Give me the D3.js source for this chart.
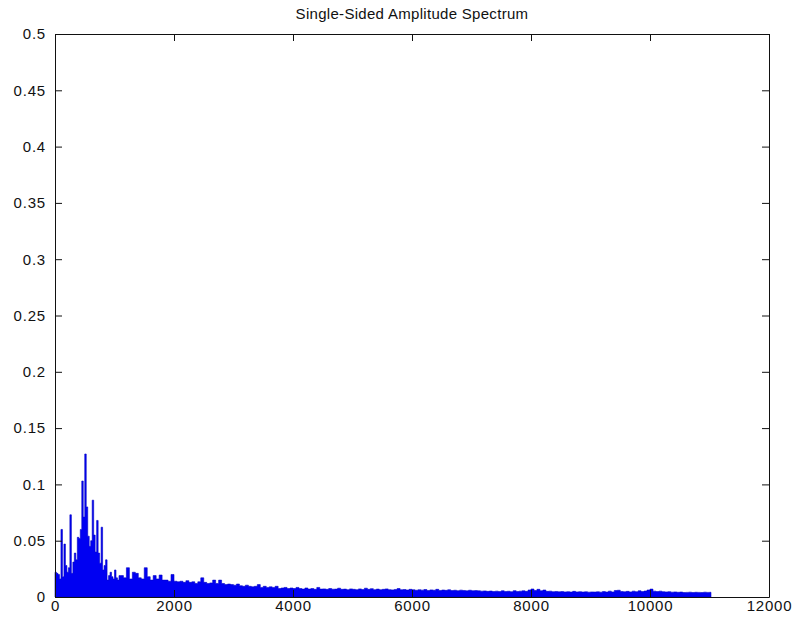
<!DOCTYPE html>
<html>
<head>
<meta charset="utf-8">
<script src="https://cdn.jsdelivr.net/npm/d3@7"></script>
<style>
  body { margin: 0; background: #fff; }
  text { font-family: "Liberation Sans", Arial, sans-serif; }
</style>
</head>
<body>
<svg id="chart"></svg>
<script>
// chart text + ticks
var titleText = "Single-Sided Amplitude Spectrum";
var xTicks = [0, 2000, 4000, 6000, 8000, 10000, 12000];
var yTicks = [0, 0.05, 0.1, 0.15, 0.2, 0.25, 0.3, 0.35, 0.4, 0.45, 0.5];
var yTickLabels = ["0", "0.05", "0.1", "0.15", "0.2", "0.25", "0.3", "0.35", "0.4", "0.45", "0.5"];

// spectrum
// 0 - 1075 Hz, one value every 25 Hz
var lowStepHz = 25;
var lowAmp = [
  0.022, 0.021, 0.020, 0.016, 0.060, 0.018, 0.047, 0.028, 0.022, 0.026,
  0.073, 0.021, 0.031, 0.039, 0.033, 0.053, 0.052, 0.060, 0.103, 0.071,
  0.127, 0.080, 0.054, 0.045, 0.050, 0.086, 0.055, 0.040, 0.068, 0.039,
  0.030, 0.062, 0.024, 0.028, 0.033, 0.015, 0.019, 0.022, 0.018, 0.016,
  0.024, 0.017, 0.015, 0.019
];
// 1100 - 11000 Hz, one value every 50 Hz
var highStartHz = 1100;
var highStepHz = 50;
var highAmp = [
  0.019, 0.017, 0.026, 0.016, 0.022, 0.021, 0.017, 0.016, 0.026, 0.018,
  0.015, 0.019, 0.016, 0.0195, 0.015, 0.015, 0.014, 0.020, 0.014, 0.0135,
  0.014, 0.013, 0.0145, 0.013, 0.0135, 0.012, 0.0135, 0.017, 0.013, 0.012,
  0.0125, 0.015, 0.012, 0.015, 0.012, 0.011, 0.0115, 0.011, 0.0105, 0.0115,
  0.010, 0.0095, 0.0105, 0.0095, 0.009, 0.0095, 0.011, 0.0085, 0.0095, 0.0085,
  0.009, 0.0085, 0.0095, 0.0075, 0.008, 0.0085, 0.0075, 0.008, 0.0075, 0.0085,
  0.0075, 0.007, 0.008, 0.007, 0.0075, 0.0068, 0.0085, 0.007, 0.0072, 0.0068,
  0.0075, 0.0069, 0.007, 0.0078, 0.0068, 0.007, 0.0065, 0.0072, 0.0068, 0.0065,
  0.0072, 0.0066, 0.0078, 0.0068, 0.0074, 0.0065, 0.007, 0.0064, 0.0068, 0.0072,
  0.0065, 0.0063, 0.0067, 0.0075, 0.0064, 0.0066, 0.0062, 0.0068, 0.0064, 0.006,
  0.0064, 0.0061, 0.0066, 0.0058, 0.0063, 0.006, 0.0068, 0.0058, 0.0062, 0.0059,
  0.0064, 0.0057, 0.006, 0.0056, 0.0061, 0.0058, 0.0055, 0.006, 0.0056, 0.0057,
  0.0055, 0.0052, 0.0054, 0.005, 0.0053, 0.0049, 0.0052, 0.0048, 0.0055, 0.0049,
  0.0051, 0.0047, 0.0056, 0.0049, 0.0052, 0.0055, 0.005, 0.0062, 0.0071, 0.0058,
  0.0068, 0.0055, 0.0062, 0.005, 0.0052, 0.0047, 0.0049, 0.0046, 0.0048, 0.0045,
  0.0047, 0.0044, 0.005, 0.0045, 0.0047, 0.0044, 0.0046, 0.0043, 0.0045, 0.0044,
  0.0046, 0.0043, 0.0048, 0.0044, 0.0052, 0.0045, 0.0058, 0.006, 0.0049, 0.0046,
  0.005, 0.0045, 0.0052, 0.0047, 0.0055, 0.0048, 0.0053, 0.0062, 0.007, 0.0052,
  0.0048, 0.0052, 0.0047, 0.0045, 0.0047, 0.0043, 0.0045, 0.0042, 0.0044, 0.004,
  0.0041, 0.0043, 0.004, 0.0042, 0.0041, 0.004, 0.0043, 0.0041, 0.0042
];
var nyquistHz = 11025;

var W = 793, H = 619;
var margin = {top: 34, right: 24, bottom: 22, left: 55};

var svg = d3.select("#chart")
    .attr("width", W)
    .attr("height", H);

svg.append("rect").attr("width", W).attr("height", H).attr("fill", "#fff");

var x = d3.scaleLinear().domain([0, 12000]).range([margin.left, W - margin.right]);
var y = d3.scaleLinear().domain([0, 0.5]).range([H - margin.bottom, margin.top]);

// build points list
var pts = [];
lowAmp.forEach(function(a, i) { pts.push({f: i * lowStepHz, a: a}); });
highAmp.forEach(function(a, i) { pts.push({f: highStartHz + i * highStepHz, a: a}); });
pts.push({f: nyquistHz, a: highAmp[highAmp.length - 1]});

var area = d3.area()
    .curve(d3.curveStepAfter)
    .x(function(d) { return x(d.f); })
    .y0(y(0))
    .y1(function(d) { return y(d.a); });

svg.append("path")
    .datum(pts)
    .attr("d", area)
    .attr("fill", "#0000f2")
    .attr("stroke", "#0000c8")
    .attr("stroke-width", 0.6);

// axes, ticks pointing inward like matlab
var fontSize = 15;

svg.append("g")
    .attr("transform", "translate(0," + y(0) + ")")
    .call(d3.axisBottom(x).tickValues(xTicks).tickFormat(d3.format("d"))
        .tickSizeInner(-7).tickSizeOuter(0).tickPadding(3));

svg.append("g")
    .attr("transform", "translate(" + x(0) + ",0)")
    .call(d3.axisLeft(y).tickValues(yTicks)
        .tickFormat(function(d, i) { return yTickLabels[i]; })
        .tickSizeInner(-7).tickSizeOuter(0).tickPadding(9));

svg.append("g")
    .attr("transform", "translate(0," + y(0.5) + ")")
    .call(d3.axisTop(x).tickValues(xTicks).tickFormat("")
        .tickSizeInner(-7).tickSizeOuter(0));

svg.append("g")
    .attr("transform", "translate(" + x(12000) + ",0)")
    .call(d3.axisRight(y).tickValues(yTicks).tickFormat("")
        .tickSizeInner(-7).tickSizeOuter(0));

svg.selectAll(".domain, .tick line").attr("stroke", "#111").attr("stroke-width", 1);
svg.selectAll(".tick text")
    .attr("fill", "#111")
    .style("font-size", fontSize + "px")
    .style("letter-spacing", "0.8px")
    .style("font-family", '"Liberation Sans", Arial, sans-serif');

svg.append("text")
    .attr("x", (x(0) + x(12000)) / 2)
    .attr("y", 19)
    .attr("text-anchor", "middle")
    .attr("fill", "#111")
    .style("font-size", "15px")
    .style("letter-spacing", "0.3px")
    .text(titleText);
</script>
</body>
</html>
